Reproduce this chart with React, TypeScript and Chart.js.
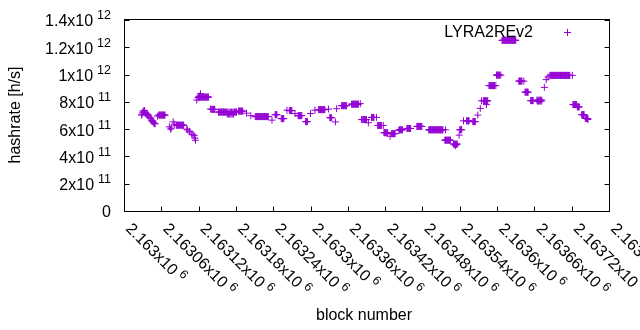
import React, { useEffect, useRef } from 'react';
import { Chart, registerables } from 'chart.js';

Chart.register(...registerables);

// ---- data (one line per visible cluster) ----
const blockNumbers = [
  2163028, 2163029, 2163030, 2163031, 2163032, 2163033, 2163034, 2163035, 2163036, 2163037, 2163038, 2163039, 2163040,
  2163042, 2163043, 2163044, 2163045, 2163046, 2163047, 2163048, 2163049, 2163050,
  2163054, 2163056, 2163057, 2163058, 2163059, 2163060, 2163061, 2163062, 2163063, 2163064, 2163065, 2163066,
  2163073, 2163075, 2163076, 2163079, 2163081,
  2163084, 2163085, 2163086, 2163087, 2163088, 2163089, 2163090, 2163091, 2163092, 2163093, 2163094, 2163095, 2163096,
  2163101, 2163102, 2163105, 2163106,
  2163109, 2163111, 2163113, 2163114, 2163115,
  2163117, 2163119, 2163121, 2163123,
  2163120, 2163121, 2163122, 2163123, 2163124, 2163125, 2163126, 2163127, 2163128, 2163129, 2163130, 2163131, 2163132, 2163133, 2163134, 2163135, 2163136,
  2163139, 2163141, 2163142, 2163143, 2163144, 2163145, 2163146,
  2163152, 2163153, 2163154, 2163155, 2163156, 2163157, 2163158, 2163159, 2163160, 2163161, 2163162, 2163163, 2163164, 2163165,
  2163166, 2163167, 2163168, 2163169, 2163170, 2163171, 2163172, 2163173, 2163174, 2163175, 2163176,
  2163177, 2163178, 2163179, 2163180, 2163181,
  2163184, 2163185, 2163186, 2163187, 2163188, 2163189, 2163190, 2163191,
  2163197,
  2163204,
  2163211, 2163212, 2163213, 2163214, 2163215, 2163216, 2163217, 2163218, 2163219, 2163220, 2163221,
  2163222, 2163223, 2163224, 2163225, 2163226, 2163227, 2163228, 2163229, 2163230, 2163231, 2163232,
  2163238,
  2163243, 2163244, 2163245, 2163246,
  2163253, 2163254, 2163255, 2163256, 2163257,
  2163262, 2163266, 2163267, 2163268, 2163269, 2163270,
  2163275, 2163280, 2163281, 2163282, 2163283, 2163284, 2163285, 2163286,
  2163292, 2163293, 2163294, 2163295,
  2163300, 2163307,
  2163313, 2163314, 2163315, 2163316, 2163317, 2163318, 2163319, 2163320, 2163321, 2163322, 2163323, 2163329,
  2163331, 2163332, 2163333, 2163334, 2163340,
  2163342,
  2163350, 2163351, 2163352, 2163353, 2163354, 2163355, 2163356, 2163357, 2163358,
  2163366, 2163367, 2163368, 2163369, 2163370, 2163371, 2163372, 2163373, 2163374, 2163375, 2163376, 2163377, 2163380,
  2163382, 2163384, 2163385, 2163386, 2163387, 2163388, 2163389, 2163390, 2163393,
  2163398, 2163399, 2163400, 2163401, 2163402, 2163406,
  2163408, 2163409, 2163410, 2163411, 2163412, 2163413, 2163414, 2163417,
  2163418, 2163419, 2163420, 2163421, 2163422, 2163423, 2163424,
  2163428, 2163430, 2163431, 2163432, 2163433, 2163434, 2163435, 2163436,
  2163442, 2163443, 2163444, 2163445, 2163446, 2163447, 2163448,
  2163455, 2163456, 2163457, 2163458, 2163459, 2163460, 2163461,
  2163471, 2163472, 2163473, 2163474, 2163475, 2163476, 2163477, 2163478, 2163479,
  2163490, 2163491, 2163492, 2163493, 2163494, 2163495, 2163496, 2163497, 2163498, 2163499, 2163500, 2163501,
  2163502, 2163503, 2163504, 2163505, 2163506, 2163507, 2163508, 2163509, 2163510, 2163511, 2163512, 2163513, 2163517,
  2163516, 2163517, 2163518, 2163519, 2163520, 2163521, 2163522, 2163523, 2163524, 2163525,
  2163530, 2163531, 2163532, 2163533, 2163534, 2163535, 2163536, 2163533,
  2163539, 2163540, 2163541, 2163542, 2163543,
  2163546, 2163551, 2163552, 2163553, 2163554, 2163555,
  2163561, 2163562, 2163563, 2163564, 2163565,
  2163569, 2163573,
  2163575, 2163578, 2163579, 2163580, 2163581, 2163582, 2163583, 2163584, 2163585, 2163583,
  2163587, 2163588, 2163589, 2163590, 2163591, 2163592, 2163593, 2163594, 2163595, 2163596, 2163598,
  2163599, 2163600, 2163601, 2163602, 2163603, 2163604, 2163606,
  2163608, 2163609, 2163610, 2163611, 2163612, 2163613, 2163614, 2163615, 2163616, 2163617, 2163618, 2163619,
  2163620, 2163621, 2163622, 2163623, 2163624, 2163625, 2163626, 2163627, 2163628, 2163629, 2163630,
  2163635, 2163636, 2163637, 2163638, 2163639, 2163640, 2163643,
  2163645, 2163646, 2163647, 2163648, 2163649, 2163650,
  2163654, 2163655, 2163656, 2163657, 2163658,
  2163664, 2163665, 2163666, 2163667, 2163668, 2163669, 2163670, 2163671, 2163672,
  2163676, 2163679, 2163682,
  2163685, 2163686, 2163687, 2163688, 2163689, 2163690, 2163691, 2163692, 2163693, 2163694, 2163695,
  2163696, 2163697, 2163698, 2163699, 2163700, 2163701, 2163702, 2163703, 2163704, 2163705, 2163706,
  2163707, 2163708, 2163709, 2163710, 2163711, 2163712, 2163713, 2163714, 2163715, 2163716, 2163717, 2163721,
  2163722, 2163723, 2163724, 2163725, 2163726, 2163727, 2163728, 2163729, 2163730, 2163731, 2163732,
  2163736, 2163737, 2163738, 2163739, 2163740,
  2163742, 2163743, 2163744, 2163745, 2163746, 2163746,
];

const hashrates = [
  7.03e11, 7.10e11, 7.25e11, 7.25e11, 7.36e11, 7.36e11, 7.17e11, 7.17e11, 7.10e11, 7.10e11, 7.03e11, 7.03e11, 6.95e11,
  6.81e11, 6.81e11, 6.66e11, 6.59e11, 6.59e11, 6.52e11, 6.45e11, 6.40e11, 6.40e11,
  6.95e11, 7.03e11, 7.03e11, 7.03e11, 7.03e11, 7.03e11, 7.03e11, 7.03e11, 7.03e11, 7.03e11, 7.03e11, 7.03e11,
  6.17e11, 6.00e11, 6.07e11, 6.53e11, 6.36e11,
  6.29e11, 6.29e11, 6.29e11, 6.29e11, 6.29e11, 6.29e11, 6.29e11, 6.29e11, 6.29e11, 6.29e11, 6.29e11, 6.29e11, 6.29e11,
  6.00e11, 5.95e11, 5.85e11, 5.80e11,
  5.63e11, 5.59e11, 5.52e11, 5.34e11, 5.19e11,
  8.13e11, 8.30e11, 8.42e11, 8.60e11,
  8.35e11, 8.35e11, 8.35e11, 8.35e11, 8.35e11, 8.35e11, 8.35e11, 8.35e11, 8.35e11, 8.35e11, 8.35e11, 8.35e11, 8.35e11, 8.35e11, 8.35e11, 8.35e11, 8.35e11,
  7.47e11, 7.45e11, 7.45e11, 7.45e11, 7.45e11, 7.45e11, 7.45e11,
  7.25e11, 7.25e11, 7.25e11, 7.25e11, 7.25e11, 7.25e11, 7.25e11, 7.25e11, 7.25e11, 7.25e11, 7.25e11, 7.25e11, 7.25e11, 7.25e11,
  7.10e11, 7.25e11, 7.10e11, 7.25e11, 7.10e11, 7.25e11, 7.10e11, 7.25e11, 7.10e11, 7.25e11, 7.10e11,
  7.25e11, 7.25e11, 7.25e11, 7.25e11, 7.25e11,
  7.32e11, 7.32e11, 7.32e11, 7.32e11, 7.32e11, 7.32e11, 7.32e11, 7.32e11,
  7.17e11,
  6.99e11,
  6.92e11, 6.92e11, 6.92e11, 6.92e11, 6.92e11, 6.92e11, 6.92e11, 6.92e11, 6.92e11, 6.92e11, 6.92e11,
  6.92e11, 6.92e11, 6.92e11, 6.92e11, 6.92e11, 6.92e11, 6.92e11, 6.92e11, 6.92e11, 6.92e11, 6.92e11,
  6.66e11,
  7.06e11, 7.06e11, 7.06e11, 7.06e11,
  6.77e11, 6.77e11, 6.77e11, 6.77e11, 6.77e11,
  7.39e11, 7.36e11, 7.36e11, 7.36e11, 7.36e11, 7.36e11,
  7.14e11, 6.99e11, 6.99e11, 6.99e11, 6.99e11, 6.99e11, 6.99e11, 6.99e11,
  6.55e11, 6.55e11, 6.55e11, 6.55e11,
  7.14e11, 7.39e11,
  7.43e11, 7.43e11, 7.43e11, 7.43e11, 7.43e11, 7.43e11, 7.43e11, 7.43e11, 7.43e11, 7.43e11, 7.43e11, 7.47e11,
  6.84e11, 6.84e11, 6.84e11, 6.84e11, 6.53e11,
  7.50e11,
  7.72e11, 7.72e11, 7.72e11, 7.72e11, 7.72e11, 7.72e11, 7.72e11, 7.72e11, 7.72e11,
  7.83e11, 7.83e11, 7.83e11, 7.83e11, 7.83e11, 7.83e11, 7.83e11, 7.83e11, 7.83e11, 7.83e11, 7.83e11, 7.83e11, 7.87e11,
  6.70e11, 6.70e11, 6.70e11, 6.70e11, 6.70e11, 6.70e11, 6.70e11, 6.70e11, 6.47e11,
  6.86e11, 6.86e11, 6.86e11, 6.86e11, 6.86e11, 6.86e11,
  6.27e11, 6.27e11, 6.27e11, 6.27e11, 6.27e11, 6.27e11, 6.27e11, 6.27e11,
  5.74e11, 5.74e11, 5.74e11, 5.74e11, 5.74e11, 5.74e11, 5.74e11,
  5.48e11, 5.67e11, 5.67e11, 5.67e11, 5.67e11, 5.67e11, 5.67e11, 5.67e11,
  5.92e11, 5.95e11, 5.95e11, 5.95e11, 5.95e11, 5.95e11, 5.95e11,
  6.05e11, 6.05e11, 6.05e11, 6.05e11, 6.05e11, 6.05e11, 6.05e11,
  6.20e11, 6.20e11, 6.20e11, 6.20e11, 6.20e11, 6.20e11, 6.20e11, 6.20e11, 6.20e11,
  5.95e11, 5.95e11, 5.95e11, 5.95e11, 5.95e11, 5.95e11, 5.95e11, 5.95e11, 5.95e11, 5.95e11, 5.95e11, 5.95e11,
  5.95e11, 5.95e11, 5.95e11, 5.95e11, 5.95e11, 5.95e11, 5.95e11, 5.95e11, 5.95e11, 5.95e11, 5.95e11, 5.95e11, 5.95e11,
  5.19e11, 5.19e11, 5.19e11, 5.19e11, 5.19e11, 5.19e11, 5.19e11, 5.19e11, 5.19e11, 5.19e11,
  4.90e11, 4.90e11, 4.90e11, 4.90e11, 4.90e11, 4.90e11, 4.90e11, 4.79e11,
  5.56e11, 5.96e11, 5.96e11, 5.96e11, 5.96e11,
  6.61e11, 6.61e11, 6.61e11, 6.61e11, 6.61e11, 6.61e11,
  6.55e11, 6.55e11, 6.55e11, 6.55e11, 6.55e11,
  7.03e11, 7.52e11,
  8.08e11, 8.08e11, 8.08e11, 8.08e11, 8.08e11, 8.08e11, 8.08e11, 8.08e11, 8.08e11, 7.80e11,
  9.19e11, 9.19e11, 9.19e11, 9.19e11, 9.19e11, 9.19e11, 9.19e11, 9.19e11, 9.19e11, 9.19e11, 9.19e11,
  9.96e11, 9.96e11, 9.96e11, 9.96e11, 9.96e11, 9.96e11, 9.96e11,
  1.251e12, 1.251e12, 1.251e12, 1.251e12, 1.251e12, 1.251e12, 1.251e12, 1.251e12, 1.251e12, 1.251e12, 1.251e12, 1.251e12,
  1.251e12, 1.251e12, 1.251e12, 1.251e12, 1.251e12, 1.251e12, 1.251e12, 1.251e12, 1.251e12, 1.251e12, 1.251e12,
  9.52e11, 9.52e11, 9.52e11, 9.52e11, 9.52e11, 9.52e11, 9.52e11,
  8.71e11, 8.71e11, 8.71e11, 8.71e11, 8.71e11, 8.71e11,
  8.09e11, 8.09e11, 8.09e11, 8.09e11, 8.09e11,
  8.13e11, 8.05e11, 8.13e11, 8.05e11, 8.13e11, 8.05e11, 8.13e11, 8.05e11, 8.13e11,
  9.06e11, 9.63e11, 9.82e11,
  9.94e11, 9.94e11, 9.94e11, 9.94e11, 9.94e11, 9.94e11, 9.94e11, 9.94e11, 9.94e11, 9.94e11, 9.94e11,
  9.94e11, 9.94e11, 9.94e11, 9.94e11, 9.94e11, 9.94e11, 9.94e11, 9.94e11, 9.94e11, 9.94e11, 9.94e11,
  9.94e11, 9.94e11, 9.94e11, 9.94e11, 9.94e11, 9.94e11, 9.94e11, 9.94e11, 9.94e11, 9.94e11, 9.94e11, 9.94e11,
  7.80e11, 7.80e11, 7.80e11, 7.80e11, 7.80e11, 7.80e11, 7.80e11, 7.63e11, 7.63e11, 7.63e11, 7.63e11,
  7.06e11, 7.06e11, 7.06e11, 7.06e11, 7.06e11,
  6.78e11, 6.78e11, 6.78e11, 6.78e11, 6.78e11, 6.71e11,
];

const xTickValues = [
  2163000, 2163060, 2163120, 2163180, 2163240, 2163300, 2163360,
  2163420, 2163480, 2163540, 2163600, 2163660, 2163720, 2163780,
];
const xTickMantissas = [
  '2.163', '2.16306', '2.16312', '2.16318', '2.16324', '2.1633', '2.16336',
  '2.16342', '2.16348', '2.16354', '2.1636', '2.16366', '2.16372', '2.16378',
];
const xTickExponents = ['6', '6', '6', '6', '6', '6', '6', '6', '6', '6', '6', '6', '6', '6'];

const yTickValues = [0, 2e11, 4e11, 6e11, 8e11, 1e12, 1.2e12, 1.4e12];
const yTickMantissas = ['0', '2', '4', '6', '8', '1', '1.2', '1.4'];
const yTickExponents = ['', '11', '11', '11', '11', '12', '12', '12'];

const seriesLabel = 'LYRA2REv2';
const xTitle = 'block number';
const yTitle = 'hashrate [h/s]';

const PURPLE = '#9400d3';
const FONT = '"Liberation Sans", Arial, sans-serif';
const MAIN_FONT = `16px ${FONT}`;
const SUP_FONT = `12.5px ${FONT}`;

function labelMain(mantissa: string, exp: string) {
  return exp ? `${mantissa}x10` : mantissa;
}

const gnuplotFrame = {
  id: 'gnuplotFrame',
  afterDraw(chart: any) {
    const { ctx, chartArea: a, scales } = chart;
    const xs = scales.x;
    const ys = scales.y;
    ctx.save();
    ctx.strokeStyle = '#000';
    ctx.lineWidth = 1;
    const L = Math.round(a.left) + 0.5;
    const R = Math.round(a.right) + 0.5;
    const T = Math.round(a.top) - 0.5;
    const B = Math.round(a.bottom) + 0.5;
    ctx.strokeRect(L, T, R - L, B - T);

    ctx.beginPath();
    yTickValues.forEach((v) => {
      const py = Math.round(ys.getPixelForValue(v)) + 0.5;
      ctx.moveTo(L, py);
      ctx.lineTo(L + 5, py);
      ctx.moveTo(R, py);
      ctx.lineTo(R - 5, py);
    });
    xTickValues.forEach((v) => {
      const px = Math.round(xs.getPixelForValue(v)) + 0.5;
      ctx.moveTo(px, B);
      ctx.lineTo(px, B - 5);
    });
    ctx.stroke();

    ctx.fillStyle = '#000';
    // y tick labels
    yTickValues.forEach((v, i) => {
      const py = ys.getPixelForValue(v);
      const main = labelMain(yTickMantissas[i], yTickExponents[i]);
      const sup = yTickExponents[i];
      const right = 111;
      ctx.textBaseline = 'middle';
      ctx.textAlign = 'left';
      ctx.font = SUP_FONT;
      const supW = sup ? ctx.measureText(sup).width : 0;
      const gap = sup ? 4 : 0;
      ctx.font = MAIN_FONT;
      const mainW = ctx.measureText(main).width;
      const x0 = right - supW - gap - mainW;
      ctx.fillText(main, x0, py + 2);
      if (sup) {
        ctx.font = SUP_FONT;
        ctx.fillText(sup, x0 + mainW + gap, py - 4);
      }
    });

    // x tick labels, rotated clockwise 45 degrees
    xTickValues.forEach((v, i) => {
      const px = xs.getPixelForValue(v);
      const main = labelMain(xTickMantissas[i], xTickExponents[i]);
      const sup = xTickExponents[i];
      ctx.save();
      ctx.translate(px + 1, 229.5);
      ctx.rotate(Math.PI / 4);
      ctx.textAlign = 'left';
      ctx.textBaseline = 'alphabetic';
      ctx.font = MAIN_FONT;
      const mainW = ctx.measureText(main).width;
      ctx.fillText(main, 0, 0);
      ctx.font = SUP_FONT;
      ctx.fillText(sup, mainW + 4, -6);
      ctx.restore();
    });

    // axis titles
    ctx.font = MAIN_FONT;
    ctx.textAlign = 'center';
    ctx.textBaseline = 'middle';
    ctx.fillText(xTitle, 364, 316);
    ctx.save();
    ctx.translate(16, 115);
    ctx.rotate(-Math.PI / 2);
    ctx.fillText(yTitle, 0, 0);
    ctx.restore();

    // key
    ctx.textAlign = 'right';
    ctx.textBaseline = 'middle';
    ctx.fillText(seriesLabel, 533, 32.5);
    ctx.strokeStyle = PURPLE;
    ctx.beginPath();
    ctx.moveTo(564, 32.5);
    ctx.lineTo(571, 32.5);
    ctx.moveTo(567.5, 29);
    ctx.lineTo(567.5, 36);
    ctx.stroke();

    ctx.restore();
  },
};

export default function App() {
  const canvasRef = useRef<HTMLCanvasElement | null>(null);

  useEffect(() => {
    const canvas = canvasRef.current;
    if (!canvas) return;
    const points = blockNumbers.map((b, i) => ({ x: b, y: hashrates[i] }));
    const chart = new Chart(canvas, {
      type: 'scatter',
      data: {
        datasets: [
          {
            label: seriesLabel,
            data: points,
            pointStyle: 'cross',
            pointRadius: 3.5,
            pointHoverRadius: 3.5,
            pointBorderWidth: 1,
            borderColor: PURPLE,
            backgroundColor: PURPLE,
            showLine: false,
          },
        ],
      },
      options: {
        responsive: false,
        devicePixelRatio: 1,
        animation: false,
        events: [],
        layout: { padding: { left: 124, right: 31, top: 20, bottom: 119 } },
        plugins: {
          legend: { display: false },
          tooltip: { enabled: false },
          title: { display: false },
        },
        scales: {
          x: {
            type: 'linear',
            display: false,
            min: 2163000,
            max: 2163780,
          },
          y: {
            type: 'linear',
            display: false,
            min: 0,
            max: 1.4e12,
          },
        },
      },
      plugins: [gnuplotFrame],
    });
    return () => chart.destroy();
  }, []);

  return (
    <div style={{ position: 'absolute', left: 0, top: 0, width: 640, height: 330, background: '#fff' }}>
      <canvas ref={canvasRef} width={640} height={330} style={{ display: 'block', width: 640, height: 330 }} />
    </div>
  );
}
